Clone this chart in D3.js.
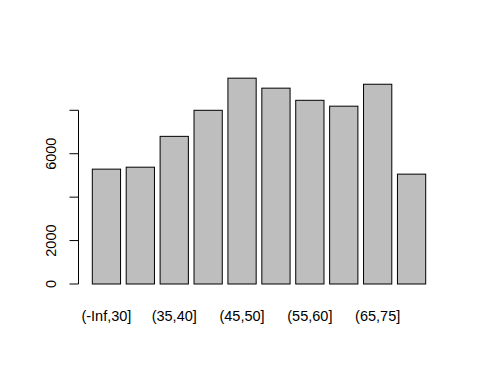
<!DOCTYPE html>
<html><head><meta charset="utf-8">
<script src="https://cdn.jsdelivr.net/npm/d3@7"></script>
<style>body{margin:0;background:#fff}svg{display:block}</style>
</head><body>
<script>
const categories = ["(-Inf,30]","(30,35]","(35,40]","(40,45]","(45,50]","(50,55]","(55,60]","(60,65]","(65,75]","(75, Inf]"];
const counts = [5290, 5380, 6800, 8000, 9480, 9020, 8460, 8190, 9200, 5060];
const yTicks = [0, 2000, 4000, 6000, 8000];
const yTickLabels = ["0", "2000", "", "6000", ""];
const shownLabels = [true, false, true, false, true, false, true, false, true, false];

const W = 480, H = 384;
const svg = d3.select("body").append("svg").attr("width", W).attr("height", H);
const font = "'Liberation Sans', Arial, sans-serif";

const x = d3.scaleBand().domain(categories).range([92.3, 425.7]).paddingInner(1/6).paddingOuter(0);
const y = d3.scaleLinear().domain([0, 8000]).range([284, 110.3]);

svg.append("g").selectAll("rect").data(counts).join("rect")
  .attr("x", (d, i) => x(categories[i]))
  .attr("y", d => y(d))
  .attr("width", x.bandwidth())
  .attr("height", d => y(0) - y(d))
  .attr("fill", "#bebebe")
  .attr("stroke", "#000")
  .attr("stroke-width", 1);

// y axis
const ax = svg.append("g").attr("transform", "translate(78.5,0)");
ax.append("line").attr("x1", 0).attr("x2", 0).attr("y1", y(0)).attr("y2", y(8000)).attr("stroke", "#000");
ax.selectAll("line.t").data(yTicks).join("line").attr("class", "t")
  .attr("x1", -9).attr("x2", 0).attr("y1", d => y(d)).attr("y2", d => y(d)).attr("stroke", "#000");
ax.selectAll("text").data(yTicks).join("text")
  .attr("transform", d => `translate(-22.5,${y(d)}) rotate(-90)`)
  .attr("text-anchor", "middle")
  .attr("font-family", font).attr("font-size", 14.5).attr("fill", "#000")
  .text((d, i) => yTickLabels[i]);

// x labels
svg.append("g").selectAll("text").data(categories.filter((c, i) => shownLabels[i])).join("text")
  .attr("x", d => x(d) + x.bandwidth() / 2)
  .attr("y", 320.5)
  .attr("text-anchor", "middle")
  .attr("font-family", font).attr("font-size", 14.5).attr("fill", "#000")
  .text(d => d);
</script>
</body></html>
